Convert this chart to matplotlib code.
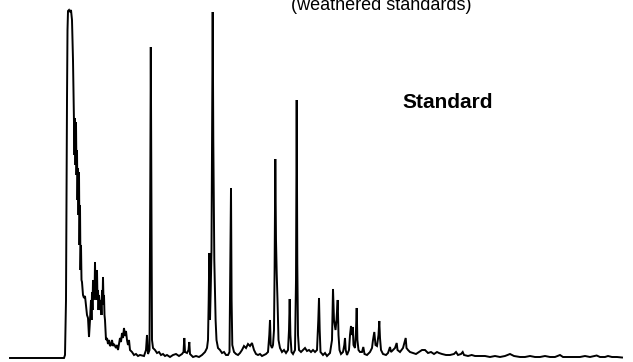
import numpy as np
import matplotlib
matplotlib.use('Agg')
import matplotlib.pyplot as plt

plt.rcParams.update({
    'font.family': 'sans-serif', 'font.sans-serif': ['Liberation Sans', 'DejaVu Sans'],
})

# ── GC-FID trace of the standard (retention time in min, detector signal in pA) ──
rt = [1.0, 6.4, 6.5, 6.6, 6.65, 6.7, 6.75, 6.8, 6.9, 7.0, 7.1, 7.2, 7.3,
      7.4, 7.45, 7.5, 7.55, 7.6, 7.65, 7.7, 7.75, 7.8, 7.85, 7.9, 7.95, 8.0, 8.05, 8.1, 8.15,
      8.2, 8.3, 8.4, 8.5, 8.6, 8.7, 8.8, 8.9, 9.0,
      9.1, 9.15, 9.2, 9.25, 9.3, 9.35, 9.4, 9.45, 9.5, 9.55, 9.6, 9.65, 9.7, 9.75, 9.8, 9.85,
      9.9, 10.0, 10.1, 10.15, 10.2, 10.25, 10.3, 10.35, 10.4, 10.45, 10.5,
      10.6, 10.7, 10.8, 10.9, 11.0, 11.1, 11.2, 11.3, 11.4, 11.6, 11.7, 11.8, 12.0, 12.1,
      12.2, 12.3, 12.4, 12.5, 12.6, 12.7, 12.8, 12.9, 13.0, 13.2, 13.4, 13.6, 13.8, 14.0,
      14.4, 14.6, 14.7, 14.8, 14.95, 15.03, 15.08, 15.13, 15.2, 15.3, 15.5, 15.7, 15.9,
      16.1, 16.3, 16.5, 16.7, 17.0, 17.3, 17.6, 17.9, 18.2, 18.35, 18.43, 18.5, 18.7,
      18.85, 18.93, 19.0, 19.3, 19.6, 19.9, 20.2, 20.5, 20.7, 20.8, 20.87, 20.93, 21.0,
      21.07, 21.15, 21.22, 21.27, 21.33, 21.38, 21.43, 21.5, 21.56, 21.65, 21.8, 22.0,
      22.2, 22.4, 22.6, 22.8, 22.95, 23.04, 23.1, 23.16, 23.23, 23.4, 23.6, 23.8, 24.0,
      24.2, 24.4, 24.6, 24.8, 25.0, 25.2, 25.4, 25.6, 25.8, 26.0, 26.2, 26.4, 26.6, 26.8,
      26.93, 27.0, 27.07, 27.2, 27.3, 27.4, 27.46, 27.53, 27.6, 27.67, 27.75, 27.85, 28.0,
      28.2, 28.4, 28.6, 28.8, 28.9, 28.97, 29.04, 29.15, 29.3, 29.5, 29.6, 29.67, 29.73,
      29.8, 29.9, 30.1, 30.3, 30.5, 30.7, 30.9, 31.1, 31.3, 31.5, 31.7, 31.83, 31.9,
      31.97, 32.05, 32.3, 32.5, 32.7, 33.0, 33.2, 33.3, 33.4, 33.55, 33.65, 33.77, 33.85,
      33.95, 34.1, 34.3, 34.43, 34.5, 34.57, 34.7, 34.9, 35.0, 35.1, 35.18, 35.27, 35.35,
      35.5, 35.6, 35.67, 35.74, 35.85, 36.0, 36.2, 36.33, 36.45, 36.7, 37.0, 37.2, 37.3,
      37.43, 37.55, 37.7, 37.85, 37.93, 38.0, 38.1, 38.3, 38.6, 38.8, 39.0, 39.1, 39.3,
      39.5, 39.67, 39.75, 40.0, 40.3, 40.57, 40.65, 40.8, 41.0, 41.3, 41.6, 41.9, 42.2,
      42.5, 42.8, 43.1, 43.4, 43.7, 43.9, 44.2, 44.6, 45.0, 45.4, 45.6, 45.8, 46.1, 46.27,
      46.4, 46.8, 47.17, 47.5, 48.0, 48.5, 49.0, 49.5, 50.0, 50.5, 51.0, 51.4, 52.0, 52.5,
      53.0, 53.5, 54.0, 54.5, 55.0, 55.5, 56.0, 56.3, 57.0, 57.5, 58.0, 58.5, 59.0, 59.67,
      60.0, 60.5, 60.8, 61.2, 61.7, 62.2]
signal = [0, 0, 3, 58, 158, 258, 328, 347, 348, 346, 348, 338, 298,
          238, 203, 240, 193, 236, 183, 208, 158, 190, 143, 186, 113, 153, 88, 113, 78,
          76, 63, 60, 62, 53, 43, 40, 21, 38,
          58, 38, 66, 48, 78, 58, 73, 60, 96, 63, 80, 58, 88, 58, 68, 48,
          63, 48, 58, 43, 68, 53, 81, 58, 63, 43, 38,
          18, 20, 14, 18, 12, 13, 18, 12, 14, 10, 13, 8, 20, 16,
          25, 20, 30, 22, 27, 18, 13, 18, 8, 6, 3, 4, 2, 3,
          2, 8, 23, 4, 8, 178, 311, 178, 18, 10, 8, 5, 6,
          3, 4, 2, 3, 1, 3, 4, 2, 4, 6, 20, 6, 5,
          8, 16, 4, 1, 2, 1, 3, 6, 10, 18, 58, 105, 38,
          68, 108, 238, 346, 218, 151, 98, 65, 38, 18, 10, 8,
          5, 6, 3, 3, 6, 98, 170, 58, 13, 6, 4, 3, 5,
          8, 12, 10, 14, 12, 15, 8, 4, 3, 4, 2, 3, 4, 6,
          23, 38, 13, 10, 13, 28, 88, 199, 118, 85, 58, 18, 10,
          6, 8, 5, 8, 28, 59, 23, 6, 4, 8, 78, 258, 95,
          23, 8, 6, 8, 10, 7, 8, 6, 8, 6, 8, 38, 60,
          28, 6, 3, 5, 2, 5, 18, 69, 38, 28, 38, 58, 23,
          8, 4, 6, 13, 20, 8, 3, 8, 23, 32, 23, 31, 13,
          10, 28, 50, 18, 8, 6, 6, 11, 4, 3, 6, 10, 18,
          26, 13, 12, 23, 37, 20, 8, 4, 3, 5, 11, 6, 8,
          10, 15, 8, 6, 10, 20, 10, 8, 6, 5, 4, 6, 8,
          8, 5, 6, 4, 6, 5, 4, 3, 3, 4, 6, 3, 4, 6,
          3, 2, 3, 2, 2, 2, 1, 2, 1, 2, 4, 2, 1, 1,
          2, 1, 1, 2, 1, 1, 3, 1, 1, 1, 1, 2, 1, 2.5,
          1, 1, 2, 1, 1, 0.5]
assert len(rt) == len(signal)

title_text = '(weathered standards)'
trace_label = 'Standard'

fig = plt.figure(figsize=(6.33, 3.62), dpi=100)
ax = fig.add_axes([0, 0, 1, 1])
ax.plot(rt, signal, color='black', lw=1.4, solid_joinstyle='miter')
ax.set_xlim(0, 63.3)
ax.set_ylim(-4, 358)
ax.axis('off')

ax.text(38.1, 348.5, title_text, ha='center', va='baseline', fontsize=13)
ax.text(44.8, 249.7, trace_label, ha='center', va='baseline', fontsize=15,
        fontweight='bold')

fig.savefig('out.png', dpi=100, facecolor='white')
